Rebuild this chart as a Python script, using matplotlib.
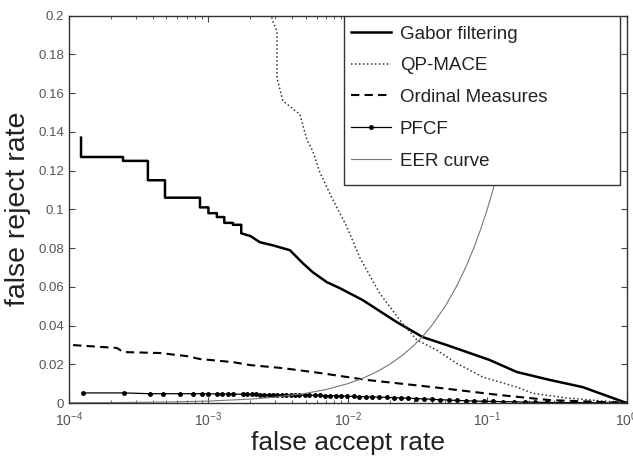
import numpy as np
import matplotlib
matplotlib.use("Agg")
import matplotlib.pyplot as plt
from matplotlib.patches import Rectangle
from matplotlib.ticker import LogLocator, NullFormatter

plt.rcParams['font.family'] = ['Liberation Sans', 'DejaVu Sans']
plt.rcParams['mathtext.default'] = 'regular'

# Gabor filtering (steps at low FAR)
gabor_far = [1.22e-4, 1.22e-4, 2.44e-4, 2.44e-4, 3.68e-4, 3.68e-4, 4.88e-4, 4.88e-4,
             8.7e-4, 8.7e-4, 1.0e-3, 1.0e-3, 1.15e-3, 1.15e-3, 1.3e-3, 1.3e-3,
             1.5e-3, 1.5e-3, 1.72e-3, 1.72e-3, 2.0e-3, 2.34e-3, 2.9e-3, 3.84e-3,
             4.75e-3, 5.61e-3, 7.06e-3, 8.76e-3, 0.0128, 0.0224, 0.0345, 0.0513,
             0.104, 0.163, 0.281, 0.484, 1.0]
gabor_frr = [0.137, 0.127, 0.127, 0.125, 0.125, 0.115, 0.115, 0.106,
             0.106, 0.101, 0.101, 0.098, 0.098, 0.096, 0.096, 0.093,
             0.093, 0.092, 0.092, 0.0876, 0.0862, 0.083, 0.0814, 0.0789,
             0.0722, 0.0675, 0.0624, 0.0593, 0.0531, 0.0418, 0.034, 0.0299,
             0.0222, 0.016, 0.0119, 0.0082, 0.0]

# QP-MACE
qp_far = [2.7e-3, 2.9e-3, 3.1e-3, 3.1e-3, 3.42e-3, 4.53e-3, 5.08e-3, 5.61e-3,
          6.3e-3, 7.8e-3, 9.84e-3, 0.0122, 0.0169, 0.0236, 0.0313, 0.0435,
          0.06, 0.0929, 0.163, 0.212, 0.371, 1.0]
qp_frr = [0.205, 0.197, 0.192, 0.168, 0.156, 0.149, 0.136, 0.130,
          0.119, 0.105, 0.091, 0.075, 0.0567, 0.0428, 0.0325, 0.0273,
          0.0206, 0.0134, 0.0082, 0.005, 0.0026, 0.0]

# Ordinal Measures
om_far = [1.07e-4, 2.21e-4, 2.44e-4, 4.49e-4, 7.01e-4, 8.69e-4, 1.5e-3, 1.98e-3,
          3.42e-3, 6.3e-3, 0.0137, 0.0407, 0.123, 0.281, 1.0]
om_frr = [0.0299, 0.0284, 0.0263, 0.0258, 0.0242, 0.0227, 0.0211, 0.0196,
          0.018, 0.0155, 0.0119, 0.0082, 0.0041, 0.0015, 0.0]

# PFCF
pfcf_far = [1.26e-4, 2.48e-4, 3.81e-4, 4.72e-4, 6.25e-4, 7.74e-4, 8.98e-4, 9.91e-4,
            1.15e-3, 1.25e-3, 1.38e-3, 1.5e-3, 1.77e-3, 1.89e-3, 2.05e-3, 2.2e-3,
            2.35e-3, 2.5e-3, 2.7e-3, 2.9e-3, 3.1e-3, 3.35e-3, 3.6e-3, 3.9e-3,
            4.2e-3, 4.5e-3, 4.9e-3, 5.3e-3, 5.8e-3, 6.3e-3, 6.9e-3, 7.5e-3,
            8.2e-3, 9.0e-3, 9.9e-3, 0.011, 0.012, 0.0135, 0.015, 0.0168,
            0.019, 0.0215, 0.024, 0.027, 0.031, 0.035, 0.04, 0.046,
            0.053, 0.061, 0.07, 0.081, 0.094, 0.11, 0.13, 0.155,
            0.185, 0.22, 0.27, 0.33, 0.41, 0.52, 0.66, 0.82, 1.0]
pfcf_frr = [0.0052, 0.0052, 0.0048, 0.0048, 0.0048, 0.0048, 0.0048, 0.0047,
            0.0047, 0.0047, 0.0046, 0.0046, 0.0045, 0.0045, 0.0044, 0.0044,
            0.0043, 0.0043, 0.0043, 0.0042, 0.0042, 0.0042, 0.0041, 0.0041,
            0.0041, 0.0041, 0.0040, 0.0040, 0.0039, 0.0039, 0.0038, 0.0038,
            0.0037, 0.0036, 0.0035, 0.0034, 0.0033, 0.0032, 0.0031, 0.0030,
            0.0029, 0.0027, 0.0026, 0.0025, 0.0023, 0.0021, 0.0019, 0.0017,
            0.0015, 0.0013, 0.0012, 0.0010, 0.0009, 0.0008, 0.0007, 0.0006,
            0.0005, 0.0004, 0.0003, 0.0002, 0.0002, 0.0001, 0.0001, 0.0, 0.0]

# EER curve (FRR = FAR)
eer_vals = [1e-4, 2e-4, 5e-4, 1e-3, 2e-3, 3e-3, 5e-3, 7e-3, 0.01, 0.013, 0.016,
            0.02, 0.025, 0.03, 0.035, 0.04, 0.05, 0.06, 0.07, 0.08, 0.09, 0.1,
            0.11, 0.12, 0.135, 0.15, 0.165, 0.18, 0.2, 0.22]

fig = plt.figure(figsize=(6.33, 4.59), dpi=100)
ax = fig.add_axes([0.109, 0.122, 0.881, 0.844])

ax.plot(gabor_far, gabor_frr, color="black", lw=1.8, label="Gabor filtering")
ax.plot(qp_far, qp_frr, color="#333333", lw=1.1, ls=(0, (1, 1.6)), label="QP-MACE")
ax.plot(om_far, om_frr, color="black", lw=1.5, ls=(0, (4, 2.5)), label="Ordinal Measures")
ax.plot(pfcf_far, pfcf_frr, color="black", lw=0.9, marker=".", ms=5, label="PFCF")
ax.plot(eer_vals, eer_vals, color="#777777", lw=0.8, label="EER curve")

ax.set_xscale("log")
ax.set_xlim(1e-4, 1)
ax.set_ylim(0, 0.2)
ax.set_yticks(np.arange(0, 0.201, 0.02))
ax.set_yticklabels(["0", "0.02", "0.04", "0.06", "0.08", "0.1", "0.12", "0.14", "0.16", "0.18", "0.2"])
ax.xaxis.set_minor_locator(LogLocator(base=10, subs=np.arange(2, 10)))
ax.xaxis.set_minor_formatter(NullFormatter())

ax.tick_params(which="both", direction="in", top=True, right=True, colors="#444444",
               labelcolor="#555555", labelsize=9.5)
ax.tick_params(axis="x", which="major", labelsize=10, pad=5)
ax.tick_params(which="major", length=4)
ax.tick_params(which="minor", length=2)
for s in ax.spines.values():
    s.set_color("#333333")
    s.set_linewidth(1.0)

ax.set_xlabel("false accept rate", fontsize=19, color="#222222", labelpad=2)
ax.set_ylabel("false reject rate", fontsize=20.5, color="#222222", labelpad=5)

# legend box (drawn separately to match its wide frame)
ax.add_patch(Rectangle((0.4931, 0.5627), 0.4949, 0.4373, transform=ax.transAxes,
                       facecolor="white", edgecolor="#333333", lw=1.0, zorder=4))
leg = ax.legend(loc="upper left", bbox_to_anchor=(0.492, 0.994), borderaxespad=0,
                fontsize=13.5, frameon=False, handlelength=2.13, numpoints=1,
                handletextpad=0.48, labelspacing=0.78, borderpad=0.4)
leg.set_zorder(5)
for t in leg.get_texts():
    t.set_color("#222222")

fig.savefig("out.png", dpi=100)
